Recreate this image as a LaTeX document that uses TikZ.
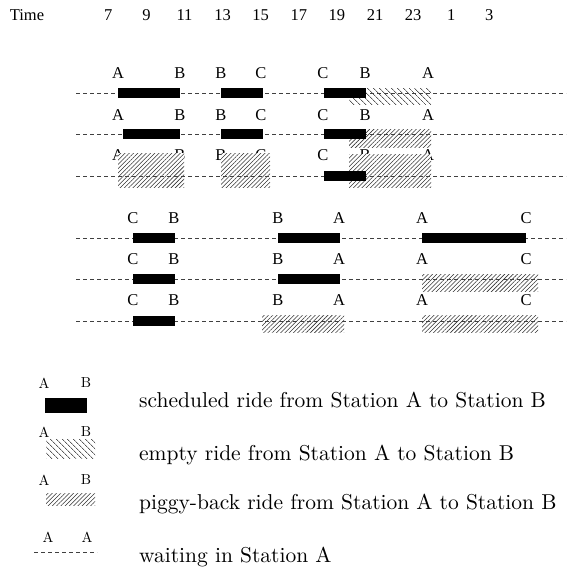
\documentclass[tikz,border=0pt]{standalone}
\usepackage{fontspec}
\newfontfamily\tms{Liberation Serif}
\usetikzlibrary{patterns.meta}
\newcommand{\legscale}[1]{\scalebox{2.15}{\fontsize{10}{12}\selectfont #1}}
\newcommand{\leglab}[1]{\scalebox{1.45}{\fontsize{10}{12}\selectfont #1}}
\begin{document}
\begin{tikzpicture}[x=1pt,y=-1pt,
  lbl/.style={font=\tms\fontsize{16.5}{18}\selectfont, inner sep=0pt},
  leglbl/.style={inner sep=0pt},
  legtxt/.style={inner sep=0pt, anchor=base west},
  wait/.style={draw=black!75, line width=0.8pt, dash pattern=on 4pt off 3pt},
  sched/.style={fill=black},
  emptyride/.style={preaction={fill=white}, pattern={Lines[angle=-45,distance=4pt,line width=0.6pt]}},
  piggy/.style={preaction={fill=white}, pattern={Lines[angle=45,distance=3pt,line width=0.55pt]}, pattern color=black!80}]
\useasboundingbox (0,0) rectangle (566,571);

% time axis
\node[lbl] (time) at (27,15) {Time};
\foreach \x/\t [count=\i] in {108.3/7,146.4/9,184.5/11,222.6/13,260.7/15,298.8/17,336.9/19,375/21,413.1/23,451.2/1,489.3/3}
  \node[lbl] (t\i) at (\x,15) {\t};

% ---------- group 1 labels ----------
\foreach \y/\r in {73/1,115/2,155/3}
  \foreach \x/\t [count=\i] in {118/A,180/B,221/B,261/C,323/C,365/B,428/A}
    \node[lbl] (a\r-\i) at (\x,\y) {\t};

% ---------- group 2 labels ----------
\foreach \y/\r in {218/1,259/2,300/3}
  \foreach \x/\t [count=\i] in {133/C,174/B,278/B,339/A,422/A,526/C}
    \node[lbl] (b\r-\i) at (\x,\y) {\t};

% hatched rides (under lines)
\path[emptyride] (349,88) rectangle (431,104);
\path[piggy] (349,129) rectangle (431,147);
\path[piggy] (118,153) rectangle (184,187);
\path[piggy] (221,153) rectangle (270,187);
\path[piggy] (349,154) rectangle (431,187);
\path[piggy] (422,274) rectangle (538,291);
\path[piggy] (262,315) rectangle (344,332);
\path[piggy] (422,315) rectangle (538,332);

% waiting lines
\foreach \y/\n in {93/g1, 134/g2, 176/g3, 238/h1, 279/h2, 321/h3}{
  \coordinate (\n s) at (76,\y);
  \coordinate (\n e) at (566,\y);
  \draw[wait] (\n s) -- (\n e);
}

% scheduled rides
\path[sched] (118,88) rectangle (180,98);
\path[sched] (221,88) rectangle (263,98);
\path[sched] (324,88) rectangle (366,98);
\path[sched] (123,129) rectangle (180,139);
\path[sched] (221,129) rectangle (263,139);
\path[sched] (324,129) rectangle (366,139);
\path[sched] (324,171) rectangle (366,181);

\path[sched] (133,233) rectangle (175,243);
\path[sched] (278,233) rectangle (340,243);
\path[sched] (422,233) rectangle (526,243);
\path[sched] (133,274) rectangle (175,284);
\path[sched] (278,274) rectangle (340,284);
\path[sched] (133,316) rectangle (175,326);

% ---------- legend ----------
\node[leglbl] (la1) at (44,383) {\leglab{A}};  \node[leglbl] (lb1) at (86,383) {\leglab{B}};
\path[sched] (45,398) rectangle (87,413);
\node[legtxt] (txt1) at (139,407) {\legscale{scheduled ride from Station A to Station B}};

\node[leglbl] (la2) at (44,432) {\leglab{A}};  \node[leglbl] (lb2) at (86,432) {\leglab{B}};
\path[emptyride] (46,439) rectangle (95,458);
\node[legtxt] (txt2) at (139,460) {\legscale{empty ride from Station A to Station B}};

\node[leglbl] (la3) at (44,480) {\leglab{A}};  \node[leglbl] (lb3) at (86,480) {\leglab{B}};
\path[piggy] (46,493) rectangle (95,505);
\node[legtxt] (txt3) at (139,509) {\legscale{piggy-back ride from Station A to Station B}};

\node[leglbl] (la4) at (48,537) {\leglab{A}};  \node[leglbl] (lb4) at (87,537) {\leglab{A}};
\coordinate (lw1) at (34,552); \coordinate (lw2) at (97,552);
\draw[wait] (lw1) -- (lw2);
\node[legtxt] (txt4) at (139,562) {\legscale{waiting in Station A}};
\end{tikzpicture}
\end{document}
